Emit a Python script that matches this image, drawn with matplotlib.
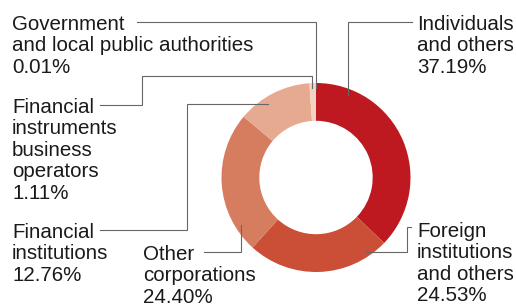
import matplotlib.pyplot as plt

plt.rcParams['font.family'] = ['Liberation Sans', 'DejaVu Sans']

# shareholder composition, clockwise from the top
labels = ["Individuals\nand others", "Foreign\ninstitutions\nand others",
          "Other\ncorporations", "Financial\ninstitutions",
          "Financial\ninstruments\nbusiness\noperators",
          "Government\nand local public authorities"]
shares = [37.19, 24.53, 24.40, 12.76, 1.11, 0.01]
colors = ["#BE1820", "#CB4F37", "#D77D5F", "#E6AA91", "#F2D2C3", "#F6E0D6"]

W, H = 516, 307
fig = plt.figure(figsize=(W / 100, H / 100), dpi=100)
ax = fig.add_axes([0, 0, 1, 1])


def Y(y):
    # pixel row (from top) -> data y
    return H - y


cx, cy, r = 316, 177.5, 94.5
ax.pie(shares, colors=colors, startangle=90, counterclock=False,
       center=(cx, Y(cy)), radius=r,
       wedgeprops=dict(width=r * 0.4, linewidth=0))

ax.set_xlim(0, W)
ax.set_ylim(0, H)
ax.set_aspect('equal')
ax.axis('off')

# label text: (index, x, top y)
label_pos = [(0, 417, 15), (1, 417, 222), (2, 143, 245),
             (3, 12, 223), (4, 12, 98), (5, 12, 15)]
for i, x, y in label_pos:
    ax.text(x, Y(y), f"{labels[i]}\n{shares[i]:.2f}%", fontsize=14.8,
            color="#1a1a1a", ha='left', va='top', linespacing=1.16)

# leader lines, pixel coordinates
leaders = [
    [(412, 22), (348, 22), (348, 95)],
    [(411, 227), (407, 227), (407, 252), (366, 252)],
    [(204, 252), (241, 252), (241, 225)],
    [(100, 230), (187, 230), (187, 104), (268, 104)],
    [(100, 105), (142, 105), (142, 76), (312, 76), (312, 88)],
    [(137, 22), (316, 22), (316, 88)],
]
for pts in leaders:
    xs = [p[0] for p in pts]
    ys = [Y(p[1]) for p in pts]
    ax.plot(xs, ys, color="#666666", lw=0.8, solid_joinstyle='miter')

fig.savefig("out.png", dpi=100)
